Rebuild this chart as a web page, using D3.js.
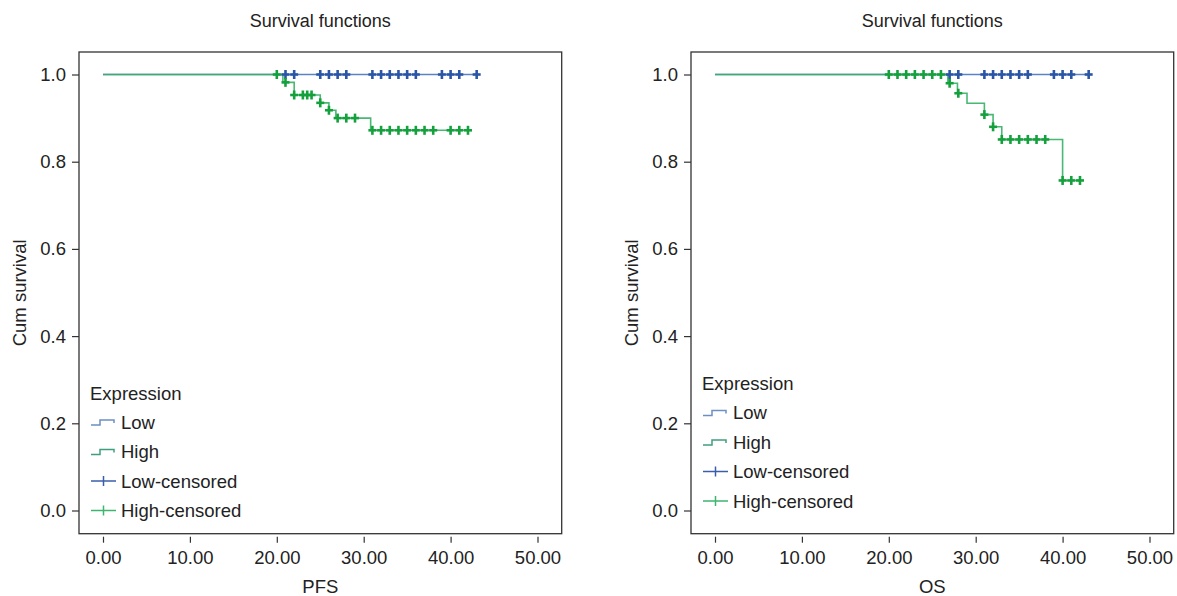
<!DOCTYPE html>
<html>
<head>
<meta charset="utf-8">
<script src="https://cdn.jsdelivr.net/npm/d3@7"></script>
<style>
  body { margin: 0; background: #fff; }
  svg { display: block; font-family: "Liberation Sans", Arial, sans-serif; }
  .tick text { font-family: "Liberation Sans", Arial, sans-serif; }
</style>
</head>
<body>
<svg id="chart" width="1177" height="596"></svg>
<script>
// ticks
const xTicks = [0, 10, 20, 30, 40, 50];
const yTicks = [0, 0.2, 0.4, 0.6, 0.8, 1.0];

// PFS panel
const pfsLowEnd = 43;
const pfsLowCensor = [21, 22, 25, 26, 27, 28, 31, 32, 33, 34, 35, 36, 39, 40, 41, 43];
const pfsHighEnd = 42;
const pfsHighTimes = [20.7, 22, 25, 26, 26.8, 30.8];
const pfsHighSurv = [0.982, 0.953, 0.935, 0.918, 0.900, 0.872];
const pfsHighCensor = [20, 21, 22, 23, 23.5, 24, 25, 26, 27, 28, 29, 31, 32, 33, 34, 35, 36, 37, 38, 40, 41, 42];

// OS panel
const osLowEnd = 43;
const osLowCensor = [27, 28, 31, 32, 33, 34, 35, 36, 39, 40, 41, 43];
const osHighEnd = 42;
const osHighTimes = [26.8, 27.9, 29, 31, 32, 33, 40];
const osHighSurv = [0.980, 0.957, 0.934, 0.908, 0.880, 0.851, 0.757];
const osHighCensor = [20, 21, 22, 23, 24, 25, 26, 27, 28, 31, 32, 33, 34, 35, 36, 37, 38, 40, 41, 42];

const legendLabels = ["Low", "High", "Low-censored", "High-censored"];

const lowLine = "#5a82c4", lowMark = "#2b55a6";
const highLine = "#35b065", highMark = "#14a03c";
const fs = 18.5;

const svg = d3.select("#chart");

function kmPoints(times, surv, end) {
  const pts = [[0, 1]];
  let s = 1;
  times.forEach((t, i) => {
    pts.push([t, s]);
    s = surv[i];
    pts.push([t, s]);
  });
  pts.push([end, s]);
  return pts;
}

function survAt(times, surv, t) {
  const i = d3.bisectRight(times, t);
  return i === 0 ? 1 : surv[i - 1];
}

function drawPanel(ox, xLabel, low, high, legendY) {
  const L = ox + 79, T = 52, R = ox + 561.7, B = 533.7;
  const g = svg.append("g");

  const x = d3.scaleLinear().domain([0, 50]).range([L + 24, L + 458.5]);
  const y = d3.scaleLinear().domain([0, 1]).range([510.5, 74.5]);

  g.append("text")
    .attr("x", (L + R) / 2).attr("y", 27)
    .attr("text-anchor", "middle")
    .attr("font-size", fs - 0.5).attr("fill", "#222")
    .text("Survival functions");

  g.append("rect")
    .attr("x", L).attr("y", T)
    .attr("width", R - L).attr("height", B - T)
    .attr("fill", "none").attr("stroke", "#333").attr("stroke-width", 1.3);

  const ya = g.append("g")
    .attr("transform", `translate(${L},0)`)
    .call(d3.axisLeft(y).tickValues(yTicks).tickFormat(d3.format(".1f")).tickSize(7).tickPadding(6));
  ya.select(".domain").remove();

  const xa = g.append("g")
    .attr("transform", `translate(0,${B + 3})`)
    .call(d3.axisBottom(x).tickValues(xTicks).tickFormat(d3.format(".2f")).tickSize(6).tickPadding(8));
  xa.select(".domain").remove();

  g.selectAll(".tick line").attr("stroke", "#333").attr("stroke-width", 1.2);
  g.selectAll(".tick text").attr("font-size", fs).attr("fill", "#222");

  g.append("text")
    .attr("x", (L + R) / 2).attr("y", 593)
    .attr("text-anchor", "middle")
    .attr("font-size", fs).attr("fill", "#222")
    .text(xLabel);

  g.append("text")
    .attr("transform", `translate(${ox + 26},${(T + B) / 2}) rotate(-90)`)
    .attr("text-anchor", "middle")
    .attr("font-size", fs).attr("fill", "#222")
    .text("Cum survival");

  const line = d3.line().x(d => x(d[0])).y(d => y(d[1]));

  // curves
  g.append("path")
    .datum([[0, 1], [low.end, 1]])
    .attr("d", line)
    .attr("fill", "none").attr("stroke", lowLine).attr("stroke-width", 1.6);

  g.append("path")
    .datum(kmPoints(high.times, high.surv, high.end))
    .attr("d", line)
    .attr("fill", "none").attr("stroke", highLine).attr("stroke-width", 1.6)
    .attr("opacity", 0.9);

  function marks(data, sFn, color) {
    const m = g.append("g").selectAll("g")
      .data(data).enter().append("g")
      .attr("transform", d => `translate(${x(d)},${y(sFn(d))})`);
    m.append("line").attr("x1", 0).attr("x2", 0).attr("y1", -4.5).attr("y2", 4.5)
      .attr("stroke", color).attr("stroke-width", 2.6);
    m.append("line").attr("x1", -4).attr("x2", 4).attr("y1", 0).attr("y2", 0)
      .attr("stroke", color).attr("stroke-width", 2.6);
  }
  marks(low.censor, () => 1, lowMark);
  marks(high.censor, t => survAt(high.times, high.surv, t), highMark);

  // legend
  const lx = L + 11;
  g.append("text")
    .attr("x", lx).attr("y", legendY)
    .attr("font-size", fs).attr("fill", "#222")
    .text("Expression");

  const symCols = ["#6e8fc2", "#3f9f7c", "#3a5ea8", "#3db56e"];
  legendLabels.forEach((lab, i) => {
    const cy = legendY + 29.5 * (i + 1) - 7;
    if (i < 2) {
      g.append("path")
        .attr("d", `M${lx + 1},${cy + 3}H${lx + 10}V${cy - 2}H${lx + 24}V${cy + 1}`)
        .attr("fill", "none").attr("stroke", symCols[i]).attr("stroke-width", 1.5);
    } else {
      g.append("line").attr("x1", lx + 1).attr("x2", lx + 26).attr("y1", cy).attr("y2", cy)
        .attr("stroke", symCols[i]).attr("stroke-width", 1.5);
      g.append("line").attr("x1", lx + 13.5).attr("x2", lx + 13.5).attr("y1", cy - 5).attr("y2", cy + 5)
        .attr("stroke", symCols[i]).attr("stroke-width", 1.5);
    }
    g.append("text")
      .attr("x", lx + 31).attr("y", cy + 6.5)
      .attr("font-size", fs).attr("fill", "#222")
      .text(lab);
  });
}

drawPanel(0, "PFS",
  { end: pfsLowEnd, censor: pfsLowCensor },
  { end: pfsHighEnd, times: pfsHighTimes, surv: pfsHighSurv, censor: pfsHighCensor },
  399.5);

drawPanel(612, "OS",
  { end: osLowEnd, censor: osLowCensor },
  { end: osHighEnd, times: osHighTimes, surv: osHighSurv, censor: osHighCensor },
  390);
</script>
</body>
</html>
